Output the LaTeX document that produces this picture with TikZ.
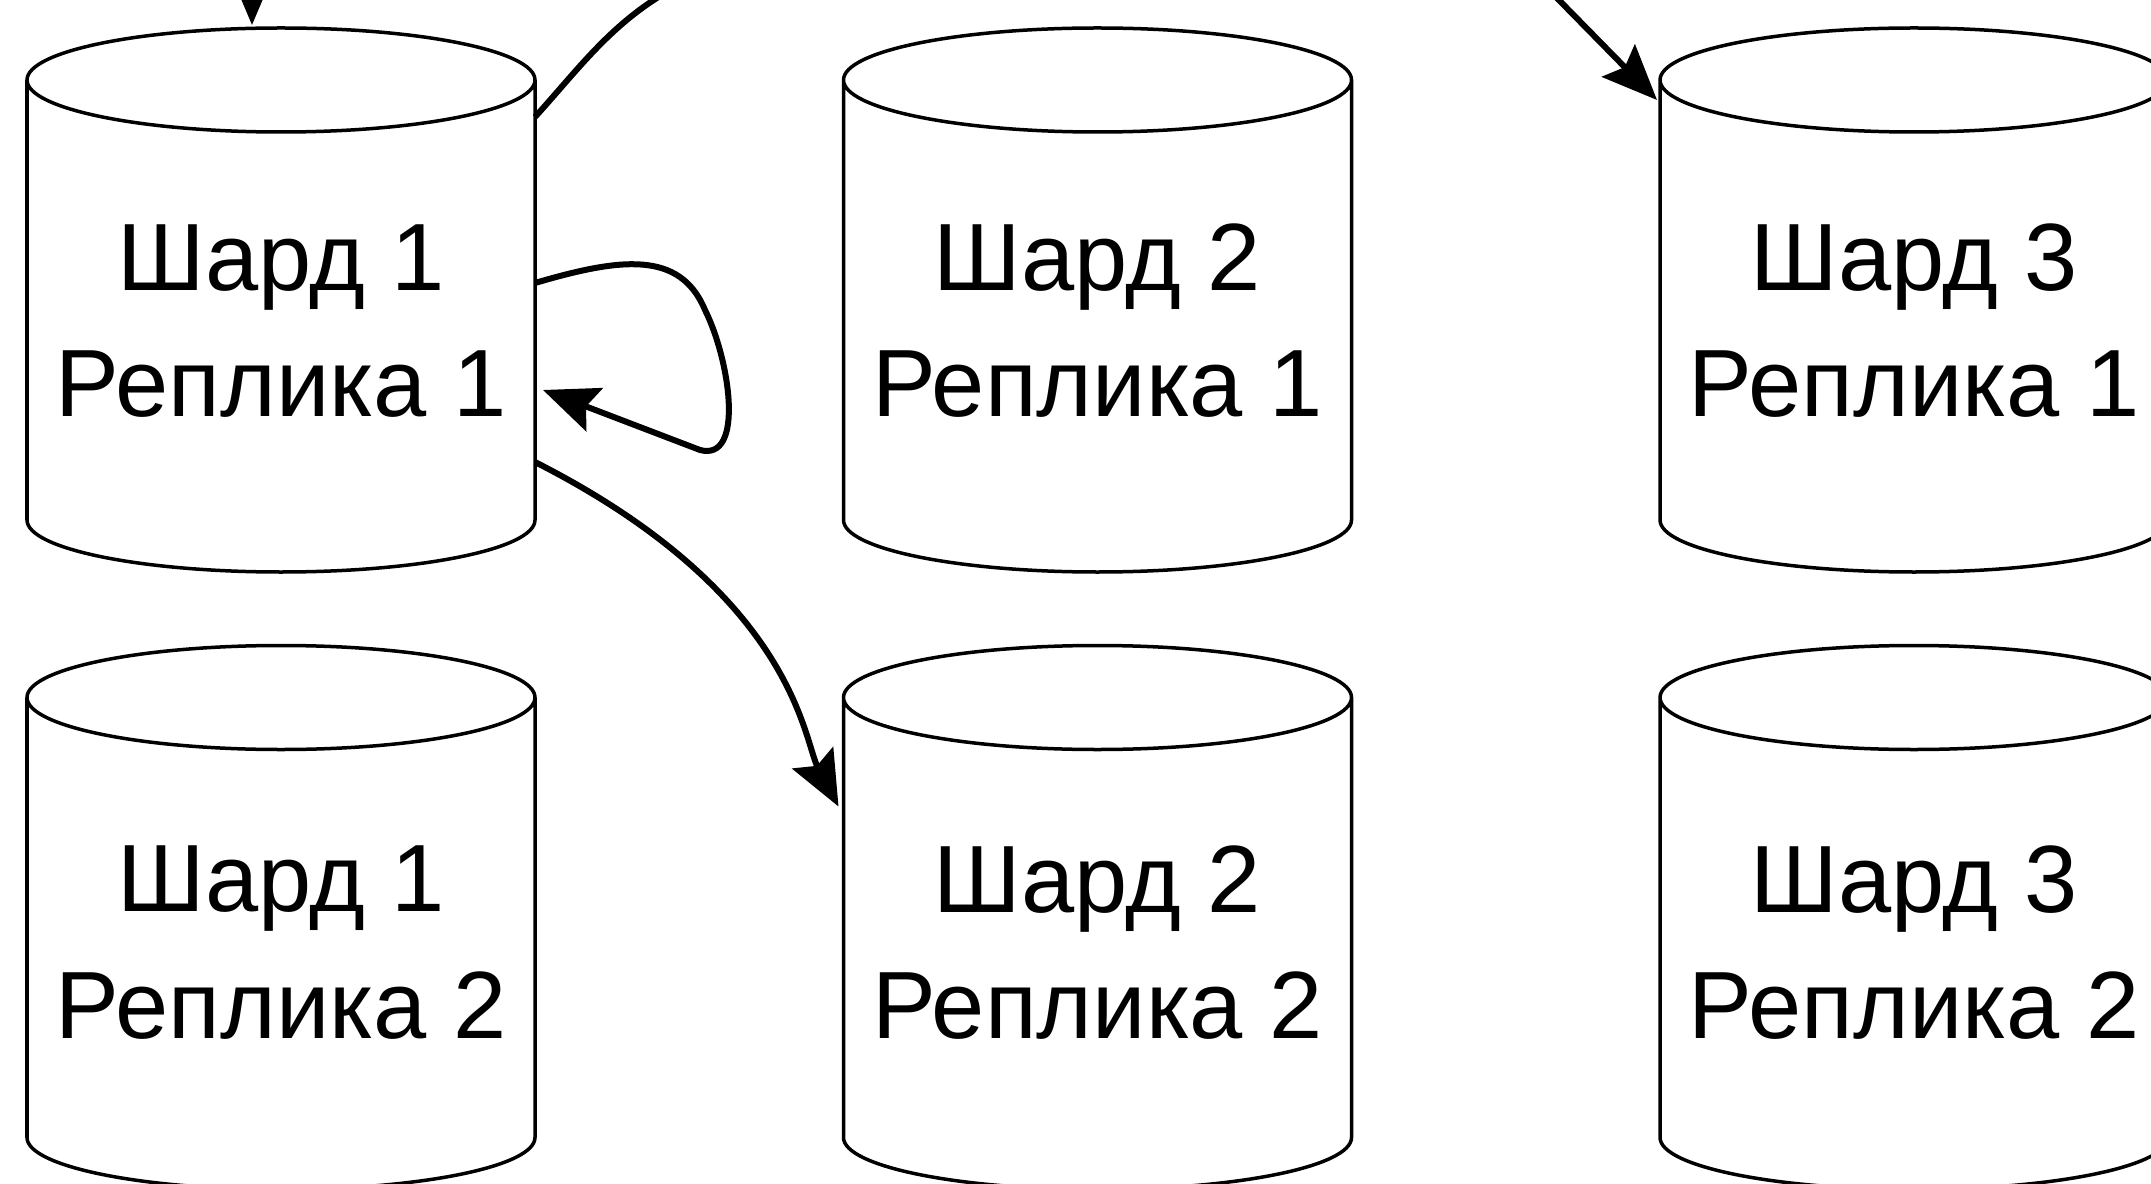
\documentclass[tikz,border=0pt]{standalone}
\usepackage{fontspec}
\setmainfont{Liberation Sans}
\usetikzlibrary{arrows.meta}
\tikzstyle{Disk}=[draw=black,line width=0.035cm]
\tikzstyle{Body}=[rectangle,inner sep=0pt,outer sep=0pt,
minimum width=5.08cm,minimum height=4.40cm,anchor=north]
\tikzstyle{Label}=[align=center,inner sep=0pt,
font=\fontsize{27.2}{35.9}\selectfont]
\tikzstyle{Edge}=[draw=black,line width=0.06cm,
-{Stealth[length=0.55cm,width=0.46cm,inset=0.09cm]}]

\begin{document}
\begin{tikzpicture}
        \clip(0,0)rectangle(21.51,-11.84);
        \fill[white](0,0)rectangle(21.51,-11.84);
        % cylinder bodies, from the top rim centre to the bottom rim centre
        \node[Body](S11)at(2.81,-0.80){};
        \node[Body](S12)at(2.81,-6.975){};
        \node[Body](S21)at(10.975,-0.80){};
        \node[Body](S22)at(10.975,-6.975){};
        \node[Body](S31)at(19.14,-0.80){};
        \node[Body](S32)at(19.14,-6.975){};
        \foreach \n in {S11,S12,S21,S22,S31,S32}
            \draw[Disk](\n.north west)--(\n.south west)
                arc[start angle=180,end angle=360,x radius=2.54cm,y radius=0.52cm]
                --(\n.north east)
                arc[start angle=0,end angle=360,x radius=2.54cm,y radius=0.52cm];
        \node[Label](T11)at([yshift=-2.41cm]S11.north){Шард 1\\Реплика 1};
        \node[Label](T12)at([yshift=-2.45cm]S12.north){Шард 1\\Реплика 2};
        \node[Label](T21)at([yshift=-2.41cm]S21.north){Шард 2\\Реплика 1};
        \node[Label](T22)at([yshift=-2.45cm]S22.north){Шард 2\\Реплика 2};
        \node[Label](T31)at([yshift=-2.41cm]S31.north){Шард 3\\Реплика 1};
        \node[Label](T32)at([yshift=-2.45cm]S32.north){Шард 3\\Реплика 2};
        % links
        \coordinate(in1)at(2.52,0.6);
        \coordinate(out1)at(7.00,0.25);
        \coordinate(in3)at(15.0,0.6);
        \coordinate(L1)at(7.05,-3.10);
        \coordinate(L2)at(7.00,-4.50);
        \draw[Edge](in1)--([xshift=-0.29cm,yshift=0.55cm]S11.north);
        \draw[Edge,-]([yshift=-0.37cm]S11.north east)
            ..controls +(0.5,0.55) and +(-0.8,-0.35)..(out1);
        \draw[Edge](in3)--([xshift=-0.03cm,yshift=-0.2cm]S31.north west);
        \draw[Edge]([yshift=-2.03cm]S11.north east)
            ..controls +(0.85,0.25) and +(-0.25,0.60)..(L1)
            ..controls +(0.25,-0.50) and +(0.45,-0.12)..(L2)
            --([xshift=0.08cm,yshift=-3.10cm]S11.north east);
        \draw[Edge]([yshift=-3.82cm]S11.north east)
            ..controls +(2.60,-1.32) and +(-0.35,0.66)..
            ([xshift=-0.05cm,yshift=-1.09cm]S22.north west);
    \end{tikzpicture}
\end{document}
